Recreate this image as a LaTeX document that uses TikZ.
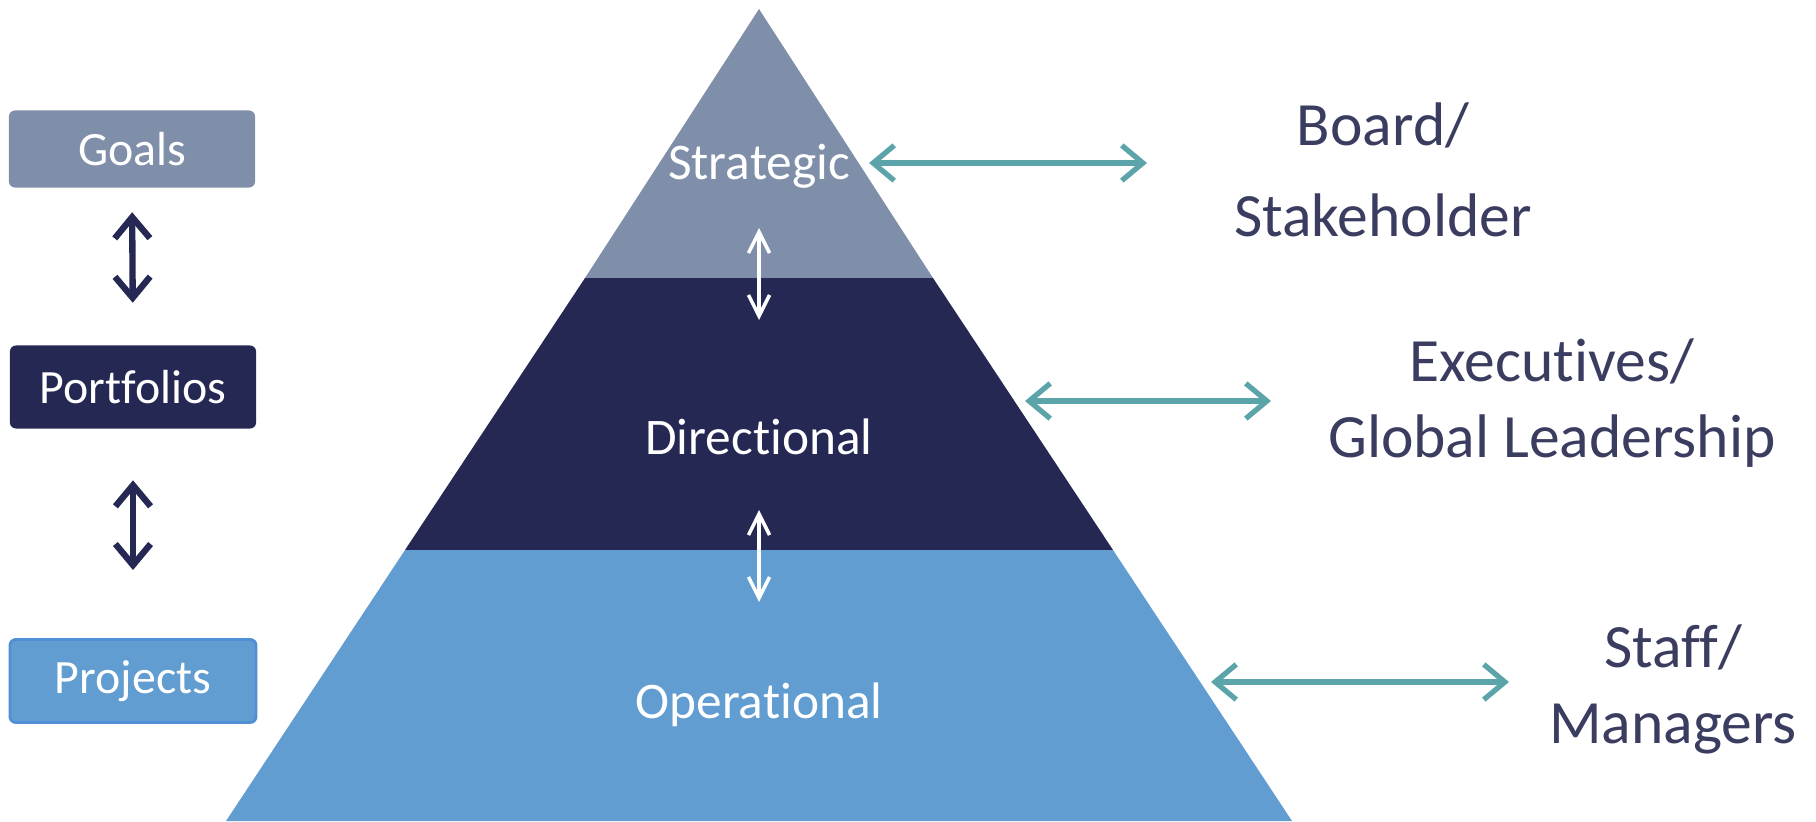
\documentclass[tikz,border=0pt]{standalone}
\usepackage{fontspec}
\setmainfont{Carlito}[Ligatures=NoCommon]
\usepackage{tikz}
\usetikzlibrary{arrows.meta, positioning}
\definecolor{goalgray}{HTML}{7F8FA9}
\definecolor{darknavy}{HTML}{262854}
\definecolor{projblue}{HTML}{619DD0}
\definecolor{projedge}{HTML}{4F8FD3}
\definecolor{linkteal}{HTML}{5BA4A9}
\definecolor{rolenavy}{HTML}{3A3D60}
\begin{document}
\begin{tikzpicture}[x=0.01cm, y=-0.01cm,
    box/.style={rounded corners=0.06cm, minimum width=2.46cm, minimum height=0.83cm, text=white, font=\fontsize{13.6}{16}\selectfont},
    level/.style={text=white, font=\fontsize{14.6}{17}\selectfont},
    role/.style={text=rolenavy, align=center},
    link/.style={linkteal, line width=1.5pt, {Straight Barb[length=6pt,width=10pt]}-{Straight Barb[length=6pt,width=10pt]}},
    stack/.style={darknavy, line width=1.8pt, {Straight Barb[length=6pt,width=10pt]}-{Straight Barb[length=6pt,width=10pt]}},
    flow/.style={white, line width=1pt, {Straight Barb[length=6pt,width=6pt]}-{Straight Barb[length=6pt,width=6pt]}}]
    \useasboundingbox (0,0) rectangle (1816,821);
    % pyramid
    \coordinate (apex) at (759,9);
    \fill[goalgray] (apex) -- (933,278) -- (585,278) -- cycle;
    \fill[darknavy] (585,278) -- (933,278) -- (1113,550) -- (405,550) -- cycle;
    \fill[projblue] (405,550) -- (1113,550) -- (1292,821) -- (226,821) -- cycle;
    \node[level] (strategic) at (759,166) {Strategic};
    \node[level] (directional) at (759,437) {Directional};
    \node[level] (operational) at (759,705) {Operational};
    \coordinate (w1a) at (759,228); \coordinate (w1b) at (759,320);
    \coordinate (w2a) at (759,510); \coordinate (w2b) at (759,602);
    \draw[flow] (w1a) -- (w1b);
    \draw[flow] (w2a) -- (w2b);
    % left column
    \node[box, fill=goalgray, minimum height=0.77cm] (goals) at (132,149) {Goals};
    \node[box, fill=darknavy] (portfolios) at (133,387) {Portfolios};
    \node[box, fill=projblue, draw=projedge, line width=0.8pt] (projects) at (133,681) {Projects};
    \draw[stack, shorten <=0.24cm, shorten >=0.42cm] (goals.south) -- (portfolios.north);
    \draw[stack, shorten <=0.51cm, shorten >=0.68cm] (portfolios.south) -- (projects.north);
    % right column
    \node[role, font=\fontsize{17.5}{25.9}\selectfont] (board) at (1383,170) {Board/\\Stakeholder};
    \node[role, font=\fontsize{17.5}{21.6}\selectfont] (exec) at (1552,403) {Executives/\\Global Leadership};
    \node[role, font=\fontsize{17.5}{21.6}\selectfont] (staff) at (1673,689) {Staff/\\Managers};
    \coordinate (l1a) at (869,163); \coordinate (l1b) at (1147,163);
    \coordinate (l2a) at (1025,401); \coordinate (l2b) at (1271,401);
    \coordinate (l3a) at (1211,682); \coordinate (l3b) at (1509,682);
    \draw[link] (l1a) -- (l1b);
    \draw[link] (l2a) -- (l2b);
    \draw[link] (l3a) -- (l3b);
\end{tikzpicture}
\end{document}
